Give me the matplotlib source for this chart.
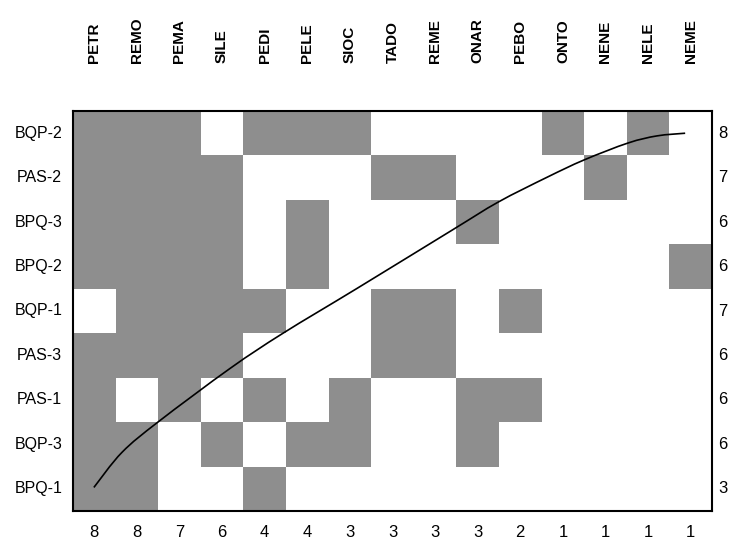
import matplotlib
matplotlib.use("Agg")
import matplotlib.pyplot as plt
import numpy as np
from matplotlib.colors import ListedColormap
from matplotlib.path import Path
from matplotlib.patches import PathPatch

plt.rcParams["font.family"] = ["Liberation Sans", "DejaVu Sans"]

species = ["PETR", "REMO", "PEMA", "SILE", "PEDI", "PELE", "SIOC", "TADO",
           "REME", "ONAR", "PEBO", "ONTO", "NENE", "NELE", "NEME"]
sites = ["BQP-2", "PAS-2", "BPQ-3", "BPQ-2", "BQP-1", "PAS-3", "PAS-1",
         "BQP-3", "BPQ-1"]

# presence (1) / absence (0), one string per site, species in column order
presence = [
    "111011100001010",
    "111100011000100",
    "111101000100000",
    "111101000000001",
    "011110011010000",
    "111100011000000",
    "101010100110000",
    "110101100100000",
    "110010000000000",
]

# isocline of perfect nestedness, in cell units (x from left, y from top)
curve_x = [0.49, 1.15, 2.02, 3.69, 4.93, 6.67, 8.90, 9.98, 11.13, 12.00,
           13.03, 13.71, 14.37]
curve_y = [8.47, 7.68, 6.98, 5.79, 5.00, 3.99, 2.68, 2.05, 1.49, 1.10,
           0.72, 0.56, 0.50]

grid = np.array([[int(c) for c in row] for row in presence])
row_totals = grid.sum(axis=1)
col_totals = grid.sum(axis=0)


def smooth_path(xs, ys):
    # pass a bezier through every point (catmull-rom tangents)
    p = np.column_stack([xs, ys])
    verts = [p[0]]
    codes = [Path.MOVETO]
    for i in range(len(p) - 1):
        p0 = p[max(i - 1, 0)]
        p3 = p[min(i + 2, len(p) - 1)]
        c1 = p[i] + (p[i + 1] - p0) / 6
        c2 = p[i + 1] - (p3 - p[i]) / 6
        verts += [c1, c2, p[i + 1]]
        codes += [Path.CURVE4] * 3
    return Path(verts, codes)


fig = plt.figure(figsize=(7.29, 5.46), dpi=100)
ax = fig.add_axes([73 / 729, 35 / 546, 639 / 729, 400 / 546])

cmap = ListedColormap(["white", "#8e8e8e"])
ax.pcolormesh(np.arange(len(species) + 1), np.arange(len(sites) + 1), grid,
              cmap=cmap, vmin=0, vmax=1)
ax.add_patch(PathPatch(smooth_path(curve_x, curve_y), fill=False,
                       edgecolor="black", lw=1.2))

ax.set_xlim(0, len(species))
ax.set_ylim(len(sites), 0)
ax.set_xticks([])
ax.set_yticks([])
for s in ax.spines.values():
    s.set_linewidth(1.5)

xc = np.arange(len(species)) + 0.5
yc = np.arange(len(sites)) + 0.5
xt = ax.get_xaxis_transform()
yt = ax.get_yaxis_transform()

for x, name, n in zip(xc, species, col_totals):
    ax.text(x, 1.12, name, transform=xt, rotation=90, ha="center",
            va="bottom", fontsize=11, fontweight="bold")
    ax.text(x, -0.035, str(n), transform=xt, ha="center", va="top",
            fontsize=12)

for y, name, n in zip(yc, sites, row_totals):
    ax.text(-0.017, y, name, transform=yt, ha="right", va="center",
            fontsize=11.5)
    ax.text(1.01, y, str(n), transform=yt, ha="left", va="center",
            fontsize=12)

fig.savefig("out.png", dpi=100)
